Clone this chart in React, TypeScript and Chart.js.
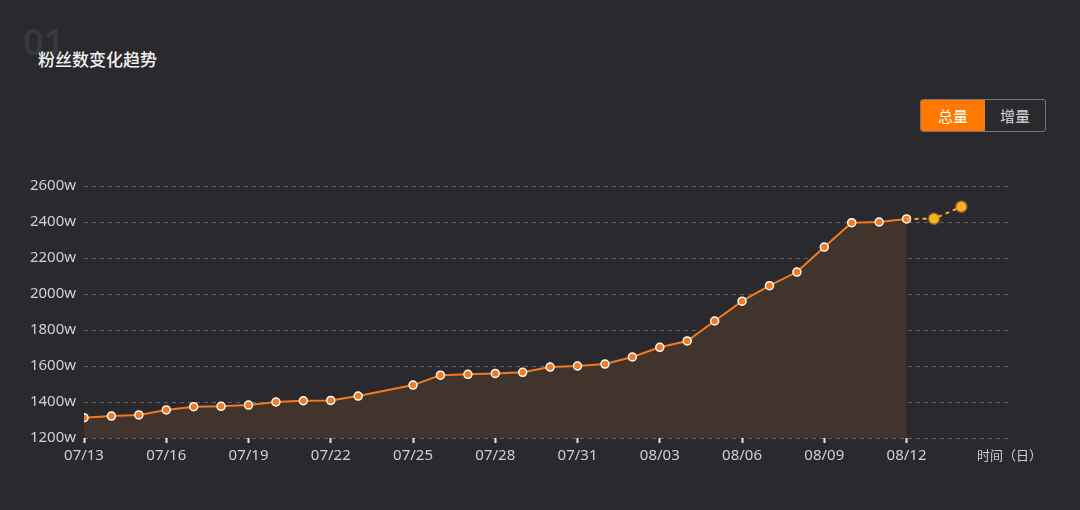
import React, { useEffect, useRef } from "react";
import { Chart, registerables } from "chart.js";

Chart.register(...registerables);

const dates = [
  "07/13", "07/14", "07/15", "07/16", "07/17", "07/18", "07/19", "07/20", "07/21", "07/22",
  "07/23", "07/24", "07/25", "07/26", "07/27", "07/28", "07/29", "07/30", "07/31", "08/01",
  "08/02", "08/03", "08/04", "08/05", "08/06", "08/07", "08/08", "08/09", "08/10", "08/11", "08/12",
];
const fans: (number | null)[] = [
  1313, 1322, 1328, 1356, 1374, 1376, 1383, 1400, 1407, 1409,
  1433, null, 1494, 1549, 1554, 1559, 1565, 1594, 1600, 1611,
  1650, 1704, 1739, 1850, 1960, 2046, 2122, 2261, 2396, 2400, 2417,
];
const forecastDates = ["08/13", "08/14"];
const forecastFans = [2418, 2485];
const xTickIndices = [0, 3, 6, 9, 12, 15, 18, 21, 24, 27, 30];
const yTicks = [1200, 1400, 1600, 1800, 2000, 2200, 2400, 2600];

const FONT = '"Noto Sans", "Noto Sans CJK SC", sans-serif';
const CJK = '"Noto Sans CJK SC", sans-serif';

export default function App() {
  const ref = useRef<HTMLCanvasElement | null>(null);

  useEffect(() => {
    if (!ref.current) return;
    const allDates = [...dates, ...forecastDates];
    const main = fans
      .map((v, i) => (v == null ? null : { x: i, y: v }))
      .filter((p) => p !== null) as { x: number; y: number }[];
    const lastIdx = dates.length - 1;
    const forecast = [
      { x: lastIdx, y: fans[lastIdx] as number },
      ...forecastFans.map((v, i) => ({ x: dates.length + i, y: v })),
    ];
    const chart = new Chart(ref.current, {
      type: "line",
      data: {
        datasets: [
          {
            data: forecast,
            borderColor: "#f2b12a",
            borderWidth: 2,
            borderDash: [4, 4],
            fill: false,
            pointRadius: [0, 5, 5],
            pointBackgroundColor: "#f8b320",
            pointBorderColor: "rgba(248,179,32,0.35)",
            pointBorderWidth: 3,
            tension: 0,
          },
          {
            data: main,
            borderColor: "#f57a1f",
            borderWidth: 2,
            backgroundColor: "#41342d",
            fill: "start",
            pointRadius: 4,
            pointBackgroundColor: "#f57a1f",
            pointBorderColor: "#ffffff",
            pointBorderWidth: 1.5,
            tension: 0,
          },
        ],
      },
      options: {
        animation: false,
        responsive: false,
        maintainAspectRatio: false,
        layout: { padding: { top: 186, right: 72, left: 0, bottom: 0 } },
        plugins: { legend: { display: false }, tooltip: { enabled: false } },
        scales: {
          x: {
            type: "linear",
            min: 0,
            max: 33.7,
            afterBuildTicks: (scale: any) => {
              scale.ticks = xTickIndices.map((v) => ({ value: v }));
            },
            afterFit: (scale: any) => {
              scale.height = 72;
            },
            border: { display: false },
            grid: {
              drawOnChartArea: false,
              drawTicks: true,
              tickLength: 5,
              tickWidth: 2,
              tickColor: "#e6e6e6",
              color: "transparent",
            },
            ticks: {
              color: "#d0d0d0",
              font: { size: 15, family: FONT },
              padding: 4,
              maxRotation: 0,
              autoSkip: false,
              callback: (v: any) => allDates[Math.round(Number(v))] ?? "",
            },
          },
          y: {
            min: 1200,
            max: 2600,
            afterBuildTicks: (scale: any) => {
              scale.ticks = yTicks.map((v) => ({ value: v }));
            },
            afterFit: (scale: any) => {
              scale.width = 84;
            },
            border: { display: false, dash: [4, 4] },
            grid: {
              color: "rgba(255,255,255,0.28)",
              drawTicks: false,
              lineWidth: 1,
            },
            ticks: {
              color: "#d0d0d0",
              font: { size: 15, family: FONT },
              padding: 8,
              callback: (v: any) => `${v}w`,
            },
          },
        },
      },
    });
    return () => chart.destroy();
  }, []);

  return (
    <div
      style={{
        position: "fixed",
        left: 0,
        top: 0,
        width: 1080,
        height: 510,
        background: "#2a292e",
        fontFamily: FONT,
        overflow: "hidden",
      }}
    >
      <div
        style={{
          position: "absolute",
          left: 23,
          top: 19,
          fontSize: 36,
          fontWeight: 600,
          color: "#39383e",
          lineHeight: "46px",
        }}
      >
        01
      </div>
      <div
        style={{
          position: "absolute",
          left: 38,
          top: 47,
          fontSize: 17,
          fontWeight: 500,
          color: "#f2f2f2",
          lineHeight: "24px",
          fontFamily: CJK,
        }}
      >
        粉丝数变化趋势
      </div>
      <div
        style={{
          position: "absolute",
          left: 920,
          top: 99,
          width: 126,
          height: 33,
          border: "1px solid #77767a",
          borderRadius: 3,
          boxSizing: "border-box",
          display: "flex",
          overflow: "hidden",
          fontFamily: CJK,
          fontSize: 15,
        }}
      >
        <div
          style={{
            width: 64,
            background: "#ff7800",
            color: "#ffffff",
            display: "flex",
            alignItems: "center",
            justifyContent: "center",
          }}
        >
          总量
        </div>
        <div
          style={{
            flex: 1,
            color: "#d8d8d8",
            display: "flex",
            alignItems: "center",
            justifyContent: "center",
          }}
        >
          增量
        </div>
      </div>
      <canvas
        ref={ref}
        width={1080}
        height={510}
        style={{ position: "absolute", left: 0, top: 0, width: 1080, height: 510 }}
      />
      <div
        style={{
          position: "absolute",
          left: 977,
          top: 446,
          fontSize: 13,
          color: "#cfcfcf",
          lineHeight: "18px",
          fontFamily: CJK,
          whiteSpace: "nowrap",
        }}
      >
        时间（日）
      </div>
    </div>
  );
}
